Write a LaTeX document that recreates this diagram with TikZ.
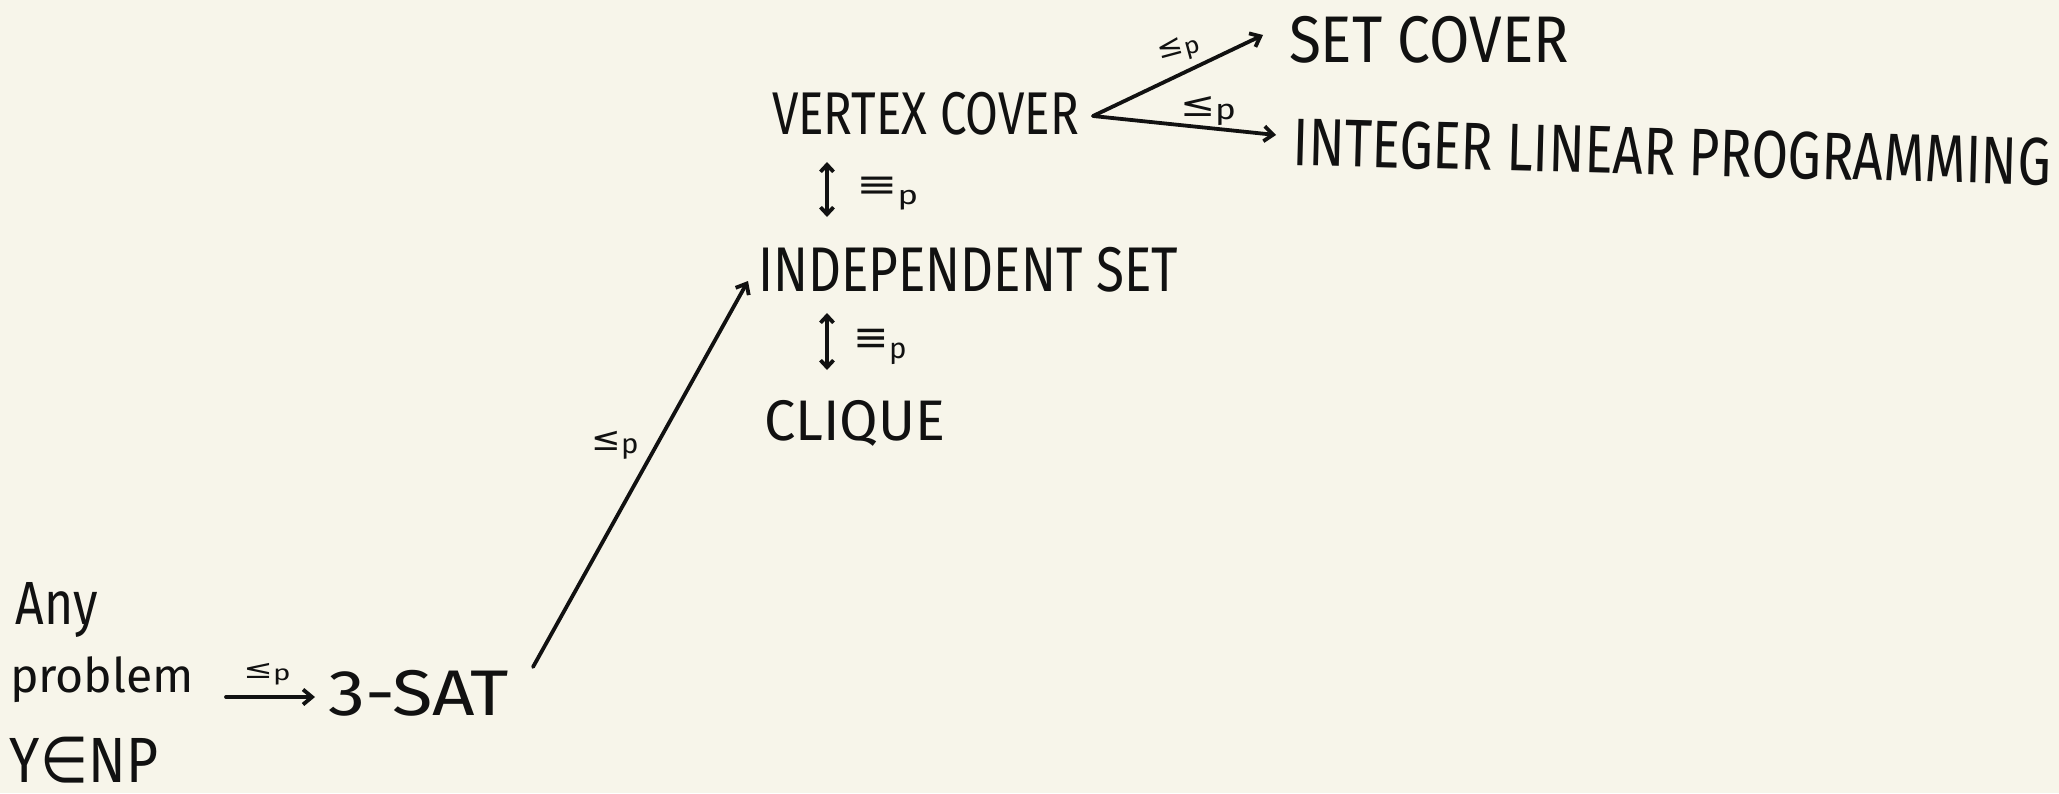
\documentclass[tikz,border=0pt]{standalone}
\usepackage{fontspec}
\setmainfont{Fira Sans}
\newfontfamily\sym{DejaVu Sans}
\usepackage{graphicx}
\usetikzlibrary{arrows.meta}
\definecolor{paper}{HTML}{F7F5EA}
\definecolor{ink}{HTML}{111111}
\newcommand{\hw}[3]{\resizebox*{#1pt}{#2pt}{#3}}
\newcommand{\lep}{{\sym\large ≤}\raisebox{-0.2ex}{p}}
\newcommand{\eqp}{{\sym\Large ≡}\raisebox{-0.5ex}{p}}
\tikzset{
  lbl/.style={inner sep=0pt, outer sep=0pt, text=ink},
  conn/.style={draw=ink, line width=3.8pt, line cap=round, -{Straight Barb[length=9pt,width=15pt,line width=3.8pt]}},
  dbl/.style={draw=ink, line width=3.8pt, line cap=round, {Straight Barb[length=7pt,width=13pt,line width=3.8pt]}-{Straight Barb[length=7pt,width=13pt,line width=3.8pt]}}
}
\begin{document}
\begin{tikzpicture}[x=1pt,y=-1pt]
\fill[paper] (0,0) rectangle (2059,793);
\useasboundingbox (0,0) rectangle (2059,793);

% left text
\node[lbl, anchor=north west] (any) at (16,582) {\hw{82}{55}{Any}};
\node[lbl, anchor=north west] (prob) at (10,657) {\hw{184}{46}{problem}};
\node[lbl, anchor=north west] (ynp) at (10,737) {\hw{148}{46}{Y{\sym ∈}NP}};

\node[lbl, anchor=north west] (sat) at (328,670) {\hw{181}{46}{3-SAT}};

% middle column
\node[lbl, anchor=north west] (vc) at (772,92) {\hw{307}{43}{VERTEX COVER}};
\node[lbl, anchor=north west] (is) at (758,247) {\hw{420}{45}{INDEPENDENT SET}};
\node[lbl, anchor=north west] (cl) at (764,400) {\hw{181}{46}{CLIQUE}};

% right
\node[lbl, anchor=north west] (sc) at (1289,16) {\hw{280}{47}{SET COVER}};
\node[lbl, rotate=-1.5] (ilp) at (1672,152) {\hw{758}{48}{INTEGER LINEAR PROGRAMMING}};

% coordinates for connector ends
\coordinate (pa) at (226,697);
\coordinate (pb) at (315,697);
\coordinate (sa) at (533,667);
\coordinate (ia) at (748,281);
\coordinate (vr) at (1093,116);
\coordinate (sct) at (1263,35);
\coordinate (ilt) at (1276,135);
\coordinate (d1a) at (827,162);
\coordinate (d1b) at (827,217);
\coordinate (d2a) at (827,313);
\coordinate (d2b) at (827,370);

% connectors
\draw[conn] (pa) -- (pb);
\draw[conn] (sa) -- (ia);
\draw[conn] (vr) -- (sct);
\draw[conn] (vr) -- (ilt);
\draw[dbl] (d1a) -- (d1b);
\draw[dbl] (d2a) -- (d2b);

% labels
\node[lbl] (l1) at (267,674) {\hw{47}{22}{\lep}};
\node[lbl] (l2) at (615,445) {\hw{47}{28}{\lep}};
\node[lbl, rotate=15] (l3) at (1179,50) {\hw{42}{24}{\lep}};
\node[lbl] (l4) at (1208,111) {\hw{56}{29}{\lep}};
\node[lbl] (e1) at (887,194) {\hw{62}{33}{\eqp}};
\node[lbl] (e2) at (880,347) {\hw{53}{36}{\eqp}};
\end{tikzpicture}
\end{document}
